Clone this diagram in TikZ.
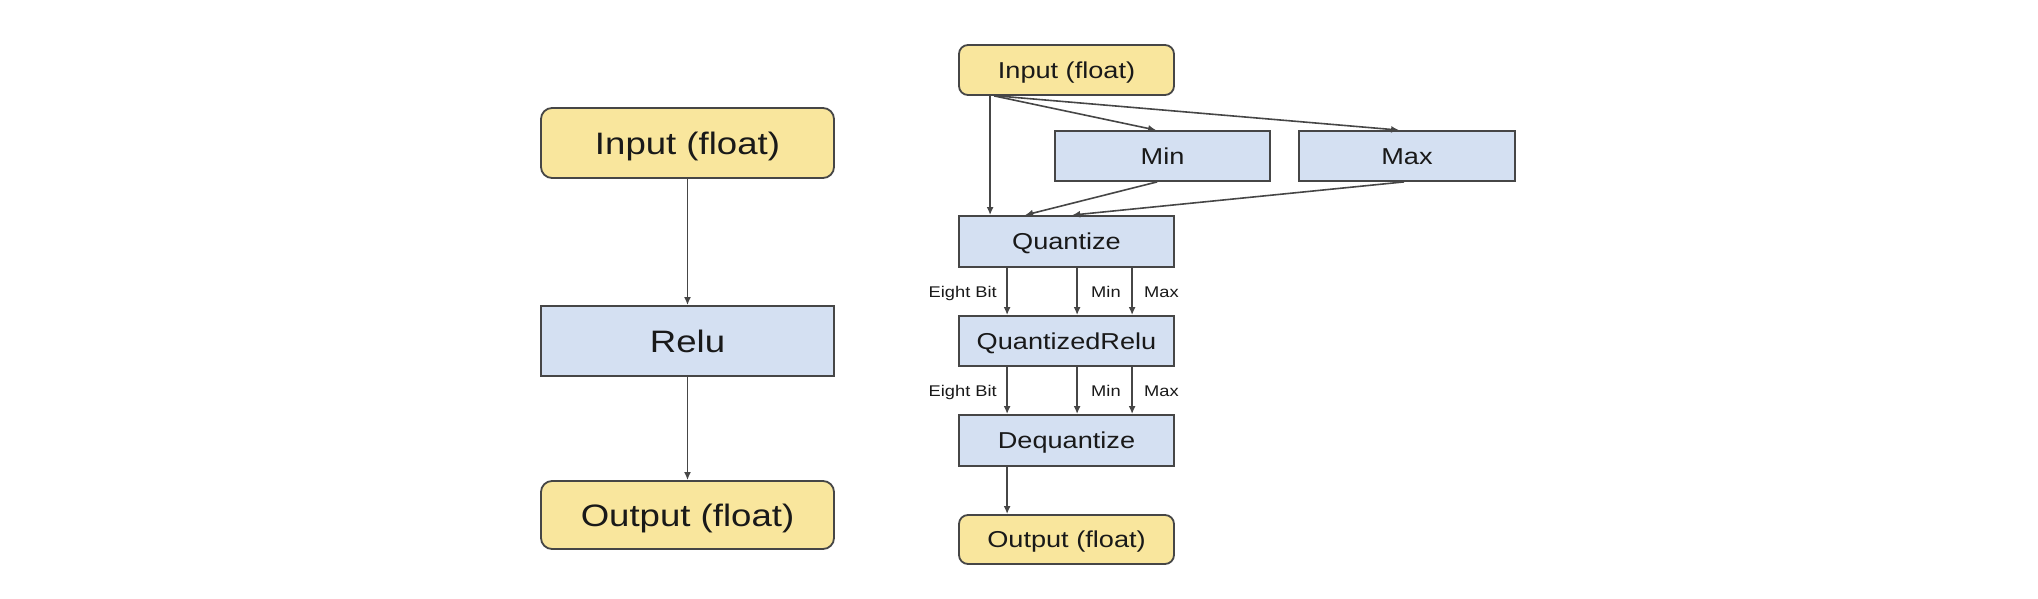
\documentclass[tikz,border=0pt]{standalone}
\usepackage{fontspec}
\setmainfont{Liberation Sans}[FakeStretch=1.18]
\usetikzlibrary{arrows.meta}
\definecolor{yfill}{RGB}{249,230,157}
\definecolor{bfill}{RGB}{212,224,242}
\definecolor{edge}{RGB}{70,70,70}
\definecolor{txt}{RGB}{25,25,25}
\begin{document}
\begin{tikzpicture}[x=1pt,y=-1pt,
  box/.style={draw=edge,line width=1.8pt,text=txt,inner sep=0pt,anchor=center,text depth=0pt},
  ybox/.style={box,fill=yfill,rounded corners=11pt},
  bbox/.style={box,fill=bfill},
  big/.style={minimum width=293pt,minimum height=70pt,text height=22.2pt,font=\fontsize{31}{36}\selectfont},
  small/.style={minimum width=215pt,minimum height=50pt,text height=16.5pt,font=\fontsize{23}{27}\selectfont},
  lab/.style={text=txt,inner sep=0pt,font=\fontsize{15.5}{18}\selectfont,text height=11.1pt,text depth=0pt},
  conn/.style={draw=edge,line width=1.6pt,-{Latex[length=8pt,width=7pt]}}]
\useasboundingbox (0,0) rectangle (2038,598);
% left column
\node[ybox,big] (lin) at (687.5,143) {Input (float)};
\node[bbox,big] (relu) at (687.5,341) {Relu};
\node[ybox,big,minimum height=68pt] (lout) at (687.5,515) {Output (float)};
\draw[conn] (lin.south) -- (relu.north);
\draw[conn] (relu.south) -- (lout.north);
% right column
\node[ybox,small,rounded corners=9pt] (rin) at (1066.5,70) {Input (float)};
\node[bbox,small] (mn) at (1162.5,156) {Min};
\node[bbox,small,minimum width=216pt] (mx) at (1407,156) {Max};
\node[bbox,small,minimum height=51pt] (quant) at (1066.5,241.5) {Quantize};
\node[bbox,small] (qrelu) at (1066.5,341) {QuantizedRelu};
\node[bbox,small,minimum height=51pt] (deq) at (1066.5,440.5) {Dequantize};
\node[ybox,small,rounded corners=9pt,minimum height=49pt] (rout) at (1066.5,539.5) {Output (float)};
\draw[conn] ([xshift=32pt]rin.south west) -- ([xshift=32pt]quant.north west);
\draw[conn] ([xshift=36pt]rin.south west) -- ([xshift=102pt]mn.north west);
\draw[conn] ([xshift=39pt]rin.south west) -- ([xshift=101pt]mx.north west);
\draw[conn] ([xshift=103pt]mn.south west) -- ([xshift=67pt]quant.north west);
\draw[conn] ([xshift=106pt]mx.south west) -- ([xshift=114pt]quant.north west);
\foreach \o in {49,119,174}{
  \draw[conn] ([xshift=\o pt]quant.south west) -- ([xshift=\o pt]qrelu.north west);
  \draw[conn] ([xshift=\o pt]qrelu.south west) -- ([xshift=\o pt]deq.north west);
}
\draw[conn] ([xshift=49pt]deq.south west) -- ([xshift=49pt]rout.north west);
% labels
\node[lab,anchor=east] (l1a) at (997,292) {Eight Bit};
\node[lab,anchor=west] (l1b) at (1091,292) {Min};
\node[lab,anchor=west] (l1c) at (1144,292) {Max};
\node[lab,anchor=east] (l2a) at (997,391) {Eight Bit};
\node[lab,anchor=west] (l2b) at (1091,391) {Min};
\node[lab,anchor=west] (l2c) at (1144,391) {Max};
\end{tikzpicture}
\end{document}
